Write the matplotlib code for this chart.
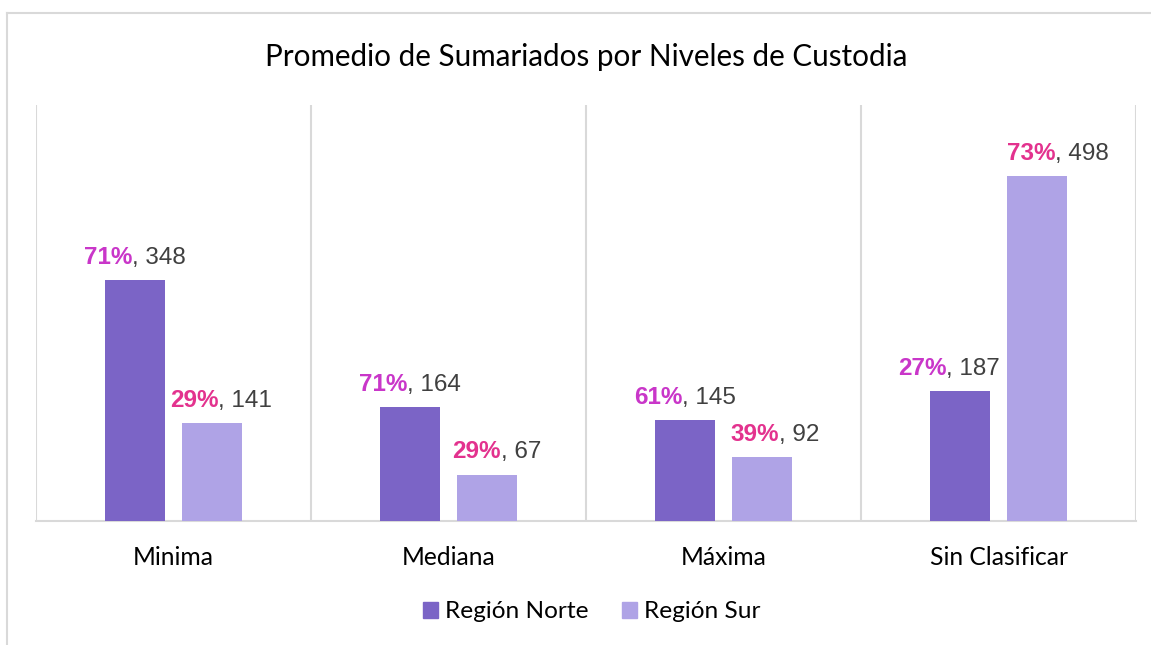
import matplotlib
matplotlib.use("Agg")
import matplotlib.pyplot as plt
from matplotlib.lines import Line2D
from matplotlib.patches import Patch
import numpy as np

categories = ["Minima", "Mediana", "Máxima", "Sin Clasificar"]
series_names = ["Región Norte", "Región Sur"]
norte = [348, 164, 145, 187]
sur = [141, 67, 92, 498]
norte_pct = ["71%", "71%", "61%", "27%"]
sur_pct = ["29%", "29%", "39%", "73%"]
title = "Promedio de Sumariados por Niveles de Custodia"

# manual horizontal nudges of data labels (pixels), as in the original
norte_nudge = [0, 0, 0, -11]
sur_nudge = [9, 10, 13, 21]

c_norte = "#7B64C6"
c_sur = "#AFA3E6"
c_pct_norte = "#C936C9"
c_pct_sur = "#E3328E"
c_val = "#404040"
c_grid = "#D9D9D9"

W, H, DPI = 1151, 645, 100
fig = plt.figure(figsize=(W / DPI, H / DPI), dpi=DPI)
ax = fig.add_axes([36 / W, 1 - 521 / H, (1136 - 36) / W, (521 - 105) / H])

x = np.arange(len(categories))
bw = 0.218
off = 0.14
ax.bar(x - off, norte, bw, color=c_norte, zorder=3)
ax.bar(x + off, sur, bw, color=c_sur, zorder=3)

ax.set_xlim(-0.5, len(categories) - 0.5)
ax.set_ylim(0, 600)
ax.set_yticks([])
ax.set_xticks(x)
ax.set_xticklabels(categories, fontfamily="Lato", fontsize=17.7, color="#000000")
ax.tick_params(axis="x", length=0, pad=18)
for s in ["top", "right", "left"]:
    ax.spines[s].set_visible(False)
ax.spines["bottom"].set_color(c_grid)
ax.spines["bottom"].set_linewidth(1.5)
for b in np.arange(-0.5, len(categories), 1.0):
    ax.axvline(b, color=c_grid, lw=1.5, zorder=1)

fig.text(586 / W, 1 - 57 / H, title, ha="center", va="center",
         fontfamily="Lato", fontsize=21.3, color="#000000")

labels = []
for xs, vals, pcts, pc, nud in [(x - off, norte, norte_pct, c_pct_norte, norte_nudge),
                                (x + off, sur, sur_pct, c_pct_sur, sur_nudge)]:
    for xi, v, p, n in zip(xs, vals, pcts, nud):
        t1 = ax.annotate(p, xy=(xi, v), xytext=(0, 8), textcoords="offset points",
                         ha="left", va="bottom", fontfamily="Liberation Sans",
                         fontweight="bold", fontsize=17.5, color=pc, zorder=5)
        t2 = ax.annotate(", %d" % v, xy=(1, 0), xycoords=t1, ha="left", va="bottom",
                         fontfamily="Liberation Sans", fontsize=17.5, color=c_val, zorder=5)
        labels.append((t1, t2, n))

fig.canvas.draw()
r = fig.canvas.get_renderer()
for t1, t2, n in labels:
    w = t1.get_window_extent(r).width + t2.get_window_extent(r).width
    t1.xyann = ((-w / 2 + n) * 72 / DPI, 8)

handles = [Patch(color=c_norte), Patch(color=c_sur)]
fig.legend(handles, series_names, loc="center", bbox_to_anchor=(592 / W, 1 - 612 / H),
           ncol=2, frameon=False, prop={"family": "Lato", "size": 17.6},
           handlelength=0.6, handleheight=0.6, handletextpad=0.3, columnspacing=1.35)

# outer chart border
fig.add_artist(Line2D([6.5 / W, 6.5 / W], [0, 1 - 13 / H], color=c_grid, lw=1.5))
fig.add_artist(Line2D([6.5 / W, 1], [1 - 13 / H, 1 - 13 / H], color=c_grid, lw=1.5))

fig.savefig("out.png", dpi=DPI)
